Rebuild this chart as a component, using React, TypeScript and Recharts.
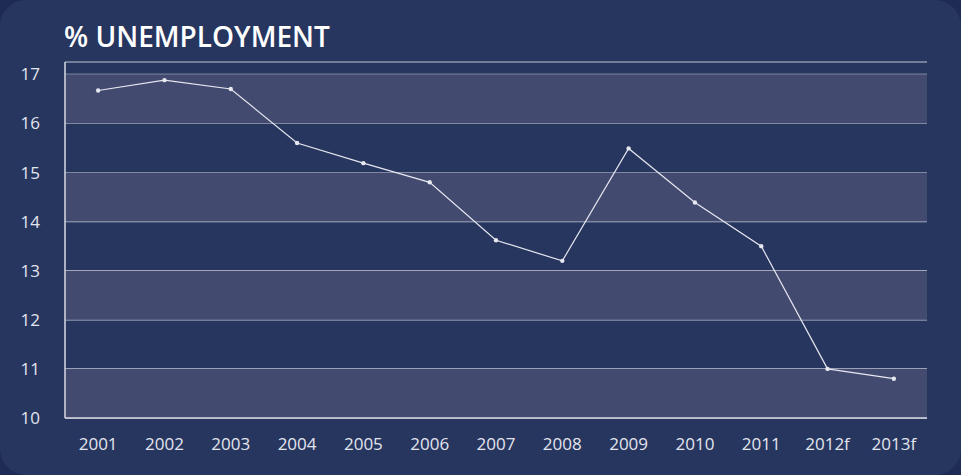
import {
  LineChart, Line, XAxis, YAxis, CartesianGrid, ReferenceArea,
} from 'recharts'

const years = ['2001', '2002', '2003', '2004', '2005', '2006', '2007', '2008', '2009', '2010', '2011', '2012f', '2013f']
const unemployment = [16.67, 16.88, 16.7, 15.6, 15.19, 14.8, 13.62, 13.2, 15.49, 14.39, 13.5, 11.0, 10.8]
const yTicks = [10, 11, 12, 13, 14, 15, 16, 17]
const bands = [[10, 11], [12, 13], [14, 15], [16, 17]]

const data = years.map((year, i) => ({ year, value: unemployment[i] }))

const tickStyle = { fill: '#e3e5ee', fontSize: 17, fontFamily: '"Open Sans", Lato, sans-serif' }

export default function App() {
  return (
    <div style={{ position: 'fixed', left: 0, top: 0, width: 961, height: 475, background: '#1e2b55' }}>
      <div
        style={{
          position: 'absolute', inset: 0, borderRadius: 26,
          background: '#27365f', overflow: 'hidden',
        }}
      >
        <div
          style={{
            position: 'absolute', left: 64, top: 19, color: '#ffffff',
            fontFamily: '"Open Sans", Lato, sans-serif', fontWeight: 600, fontSize: 28,
            lineHeight: '34px',
          }}
        >
          % UNEMPLOYMENT
        </div>
        <LineChart
          width={961}
          height={475}
          data={data}
          margin={{ top: 62, right: 34, left: 0, bottom: 27 }}
        >
          {bands.map(([a, b]) => (
            <ReferenceArea key={a} y1={a} y2={b} fill="#434a70" fillOpacity={1} stroke="none" ifOverflow="visible" />
          ))}
          <CartesianGrid horizontal vertical={false} stroke="#c3c6d4" strokeWidth={1.2} />
          <XAxis
            dataKey="year"
            axisLine={{ stroke: '#d8dae4', strokeWidth: 1.5 }}
            tickLine={false}
            tick={tickStyle}
            tickMargin={14}
            interval={0}
            scale="band"
          />
          <YAxis
            type="number"
            domain={[10, 17.25]}
            ticks={yTicks}
            allowDataOverflow
            axisLine={{ stroke: '#d8dae4', strokeWidth: 1.5 }}
            tickLine={false}
            tick={{ ...tickStyle, textAnchor: 'end' }}
            tickMargin={19}
            width={65}
          />
          <Line
            type="linear"
            dataKey="value"
            stroke="#e6e7ef"
            strokeWidth={1.2}
            dot={{ r: 2.2, fill: '#e6e7ef', stroke: 'none' }}
            isAnimationActive={false}
          />
        </LineChart>
      </div>
    </div>
  )
}
